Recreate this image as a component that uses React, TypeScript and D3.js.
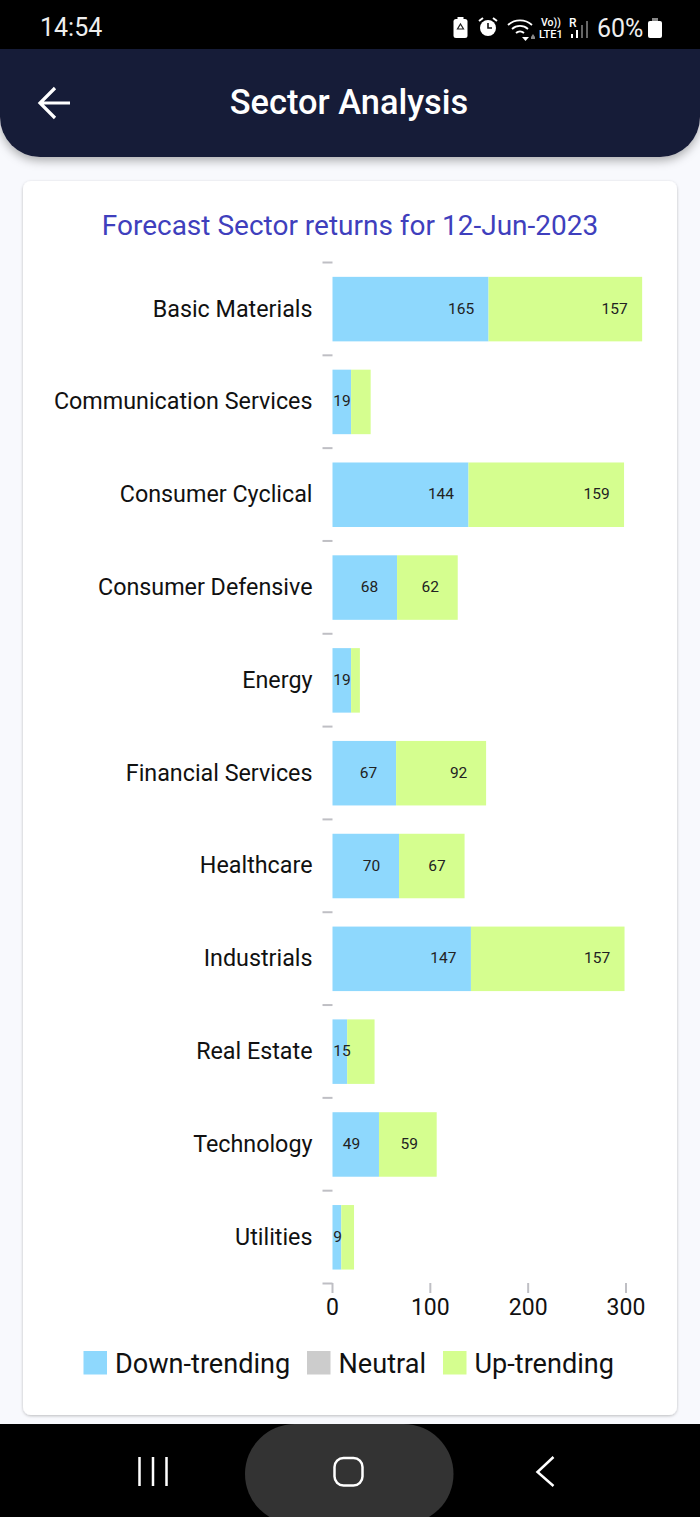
import React, { useEffect, useRef } from 'react'
import * as d3 from 'd3'

const sectors = [
  'Basic Materials', 'Communication Services', 'Consumer Cyclical', 'Consumer Defensive', 'Energy',
  'Financial Services', 'Healthcare', 'Industrials', 'Real Estate', 'Technology', 'Utilities',
]
// printed numbers
const downLabels = [165, 19, 144, 68, 19, 67, 70, 147, 15, 49, 9]
const upLabels = [157, null, 159, 62, null, 92, 67, 157, null, 59, null]
// bar lengths as read against the x axis (blue segments come out shorter than their printed number)
const downLengths = [159.5, 19, 139, 66, 19, 65, 68, 141.5, 15, 47.5, 9]
const upLengths = [157, 20, 159, 62, 9, 92, 67, 157, 28, 59, 13]
const xTicks = [0, 100, 200, 300]
const legendItems = ['Down-trending', 'Neutral', 'Up-trending']

const FONT = 'Roboto, sans-serif'
const colors = { down: '#8ed8fd', neutral: '#cccccc', up: '#d5fe8f' }

export default function App() {
  const ref = useRef<SVGSVGElement>(null)

  useEffect(() => {
    const svg = d3.select(ref.current)
    svg.selectAll('*').remove()

    const defs = svg.append('defs')
    const shadow = (id: string, dy: number, blur: number, op: number) =>
      defs.append('filter').attr('id', id).attr('x', '-10%').attr('y', '-10%').attr('width', '120%').attr('height', '125%')
        .append('feDropShadow').attr('dx', 0).attr('dy', dy).attr('stdDeviation', blur)
        .attr('flood-color', '#000').attr('flood-opacity', op)
    shadow('hdr', 4, 5, 0.3)
    shadow('card', 1, 1.5, 0.25)

    svg.append('rect').attr('width', 700).attr('height', 1517).attr('fill', '#f8f9fd')

    // header
    svg.append('path')
      .attr('d', 'M0 49H700V117A40 40 0 0 1 660 157H40A40 40 0 0 1 0 117Z')
      .attr('fill', '#181c38').attr('filter', 'url(#hdr)')
    svg.append('rect').attr('width', 700).attr('height', 49).attr('fill', '#000')
    svg.append('path').attr('d', 'M70 103H40M55 88L40 103L55 118')
      .attr('fill', 'none').attr('stroke', '#fff').attr('stroke-width', 3.2)
    svg.append('text').attr('x', 349).attr('y', 114).attr('text-anchor', 'middle')
      .attr('font-family', FONT).attr('font-weight', 500).attr('font-size', 34.4).attr('fill', '#fff')
      .text('Sector Analysis')

    // status bar
    const status = svg.append('g').attr('fill', '#fff').attr('font-family', FONT)
    status.append('text').attr('x', 40).attr('y', 36).attr('font-size', 25).attr('fill', '#eee').text('14:54')
    status.append('text').attr('x', 597).attr('y', 37).attr('font-size', 25).attr('fill', '#eee').text('60%')
    status.append('rect').attr('x', 453.5).attr('y', 19).attr('width', 14).attr('height', 19).attr('rx', 2.5)
    status.append('rect').attr('x', 457.5).attr('y', 17).attr('width', 6).attr('height', 3)
    status.append('path').attr('d', 'M460.5 24l3 5h-6z').attr('fill', 'none').attr('stroke', '#222').attr('stroke-width', 1.2)
    status.append('circle').attr('cx', 488).attr('cy', 28).attr('r', 8)
    status.append('path').attr('d', 'M488 23v5h4').attr('fill', 'none').attr('stroke', '#111').attr('stroke-width', 1.6)
    status.append('path').attr('d', 'M479 21l4-3M497 21l-4-3').attr('stroke', '#fff').attr('stroke-width', 2)
    const wifi = status.append('g').attr('fill', 'none').attr('stroke', '#fff').attr('stroke-width', 1.8)
    wifi.append('path').attr('d', 'M508 25a18 18 0 0 1 24 0M512 29a12 12 0 0 1 16 0M516 33a6 6 0 0 1 8 0')
    status.append('path').attr('d', 'M522 37h7l-3.5 4z')
    status.append('path').attr('d', 'M531 37l2-3 2 3v2h-4z').attr('fill', '#888')
    status.append('text').attr('x', 541).attr('y', 26).attr('font-size', 10.5).attr('font-weight', 500).text('Vo))')
    status.append('text').attr('x', 539).attr('y', 38).attr('font-size', 11).attr('font-weight', 500).text('LTE1')
    status.append('text').attr('x', 569).attr('y', 27).attr('font-size', 12).attr('font-weight', 500).text('R')
    status.selectAll('.sig').data([4, 8, 13, 17]).join('rect').attr('class', 'sig')
      .attr('x', (d, i) => 571 + i * 5).attr('y', d => 38 - d).attr('width', 2).attr('height', d => d)
      .attr('fill', (d, i) => (i < 2 ? '#fff' : '#666'))
    status.append('rect').attr('x', 648).attr('y', 21).attr('width', 14).attr('height', 17).attr('rx', 2)
    status.append('rect').attr('x', 652).attr('y', 18).attr('width', 6).attr('height', 3).attr('fill', '#888')

    // card
    svg.append('rect').attr('x', 23).attr('y', 181).attr('width', 654).attr('height', 1234).attr('rx', 8)
      .attr('fill', '#fff').attr('filter', 'url(#card)')
    svg.append('text').attr('x', 350).attr('y', 235).attr('text-anchor', 'middle')
      .attr('font-family', FONT).attr('font-size', 28).attr('fill', '#3f3fbd')
      .text('Forecast Sector returns for 12-Jun-2023')

    // chart
    const x = d3.scaleLinear().domain([0, 300]).range([332.5, 626])
    const y = d3.scaleBand().domain(sectors).range([262, 1283])
    const barTop = (s: string) => y(s)! + y.step() * 0.16
    const barH = y.step() * 0.695

    const stacked = sectors.map((s, i) => ({ s, down: downLengths[i], up: upLengths[i], downLabel: downLabels[i], upLabel: upLabels[i] }))
    const rows = svg.selectAll('.row').data(stacked).join('g').attr('class', 'row')
    rows.append('rect').attr('x', x(0)).attr('y', d => barTop(d.s))
      .attr('width', d => x(d.down) - x(0)).attr('height', barH).attr('fill', colors.down)
    rows.append('rect').attr('x', d => x(d.down)).attr('y', d => barTop(d.s))
      .attr('width', d => x(d.up) - x(0)).attr('height', barH).attr('fill', colors.up)

    const labelG = svg.append('g').attr('font-family', FONT).attr('font-size', 15.5).attr('fill', '#222').attr('text-anchor', 'middle')
    stacked.forEach(d => {
      const end = x(d.down)
      const w = String(d.downLabel).length * 4.2
      labelG.append('text').attr('x', Math.max(end - 27.5, x(0) + 1 + w)).attr('y', barTop(d.s) + barH / 2 + 4.5).text(d.downLabel)
      if (d.upLabel != null) {
        labelG.append('text').attr('x', x(d.down + d.up) - 27.5).attr('y', barTop(d.s) + barH / 2 + 4.5).text(d.upLabel)
      }
    })

    // y axis: category labels
    const yLabels = svg.append('g').attr('transform', 'translate(332.5,0.7)')
      .call(d3.axisLeft(y).tickSize(0).tickPadding(20))
    yLabels.select('.domain').remove()
    yLabels.selectAll('text').attr('font-family', FONT).attr('font-size', 23.3).attr('fill', '#111')

    // y axis: tick marks on the band edges
    const yEdges = d3.scaleLinear().domain([0, sectors.length]).range([262, 1283])
    const yTicks = svg.append('g').attr('transform', 'translate(332.5,0)')
      .call(d3.axisLeft(yEdges).tickValues(d3.range(sectors.length + 1)).tickSize(10).tickFormat(() => ''))
    yTicks.select('.domain').remove()
    yTicks.selectAll('line').attr('stroke', '#bfbfc4').attr('stroke-width', 2)

    // x axis
    const xAxis = svg.append('g').attr('transform', 'translate(-0.5,1283)')
      .call(d3.axisBottom(x).tickValues(xTicks).tickSize(10).tickPadding(6))
    xAxis.select('.domain').remove()
    xAxis.selectAll('line').attr('stroke', '#bfbfc4').attr('stroke-width', 2)
    xAxis.selectAll('text').attr('font-family', FONT).attr('font-size', 23).attr('fill', '#111')

    // legend
    const legendX = d3.scaleOrdinal<string, number>().domain(legendItems).range([83.5, 307, 443])
    const legendColor = d3.scaleOrdinal<string, string>().domain(legendItems).range([colors.down, colors.neutral, colors.up])
    const legend = svg.selectAll('.legend').data(legendItems).join('g').attr('class', 'legend')
    legend.append('rect').attr('x', d => legendX(d)).attr('y', 1351).attr('width', 23.5).attr('height', 23.5).attr('fill', d => legendColor(d))
    legend.append('text').attr('x', d => legendX(d) + 31.5).attr('y', 1372.5).attr('font-family', FONT).attr('font-size', 27.1).attr('fill', '#111').text(d => d)

    // nav bar
    svg.append('rect').attr('y', 1424).attr('width', 700).attr('height', 93).attr('fill', '#000')
    svg.append('rect').attr('x', 245).attr('y', 1424).attr('width', 208.5).attr('height', 100).attr('rx', 50).attr('fill', '#333')
    svg.append('path').attr('d', 'M139.5 1457V1486M153 1457V1486M166.5 1457V1486M553.5 1457L537.5 1472L553.5 1486')
      .attr('fill', 'none').attr('stroke', '#fff').attr('stroke-width', 2.5)
    svg.append('rect').attr('x', 334.5).attr('y', 1458).attr('width', 28).attr('height', 27.5).attr('rx', 9)
      .attr('fill', 'none').attr('stroke', '#fff').attr('stroke-width', 2.5)
  }, [])

  return <svg ref={ref} width={700} height={1517} style={{ position: 'absolute', left: 0, top: 0, display: 'block' }} />
}
